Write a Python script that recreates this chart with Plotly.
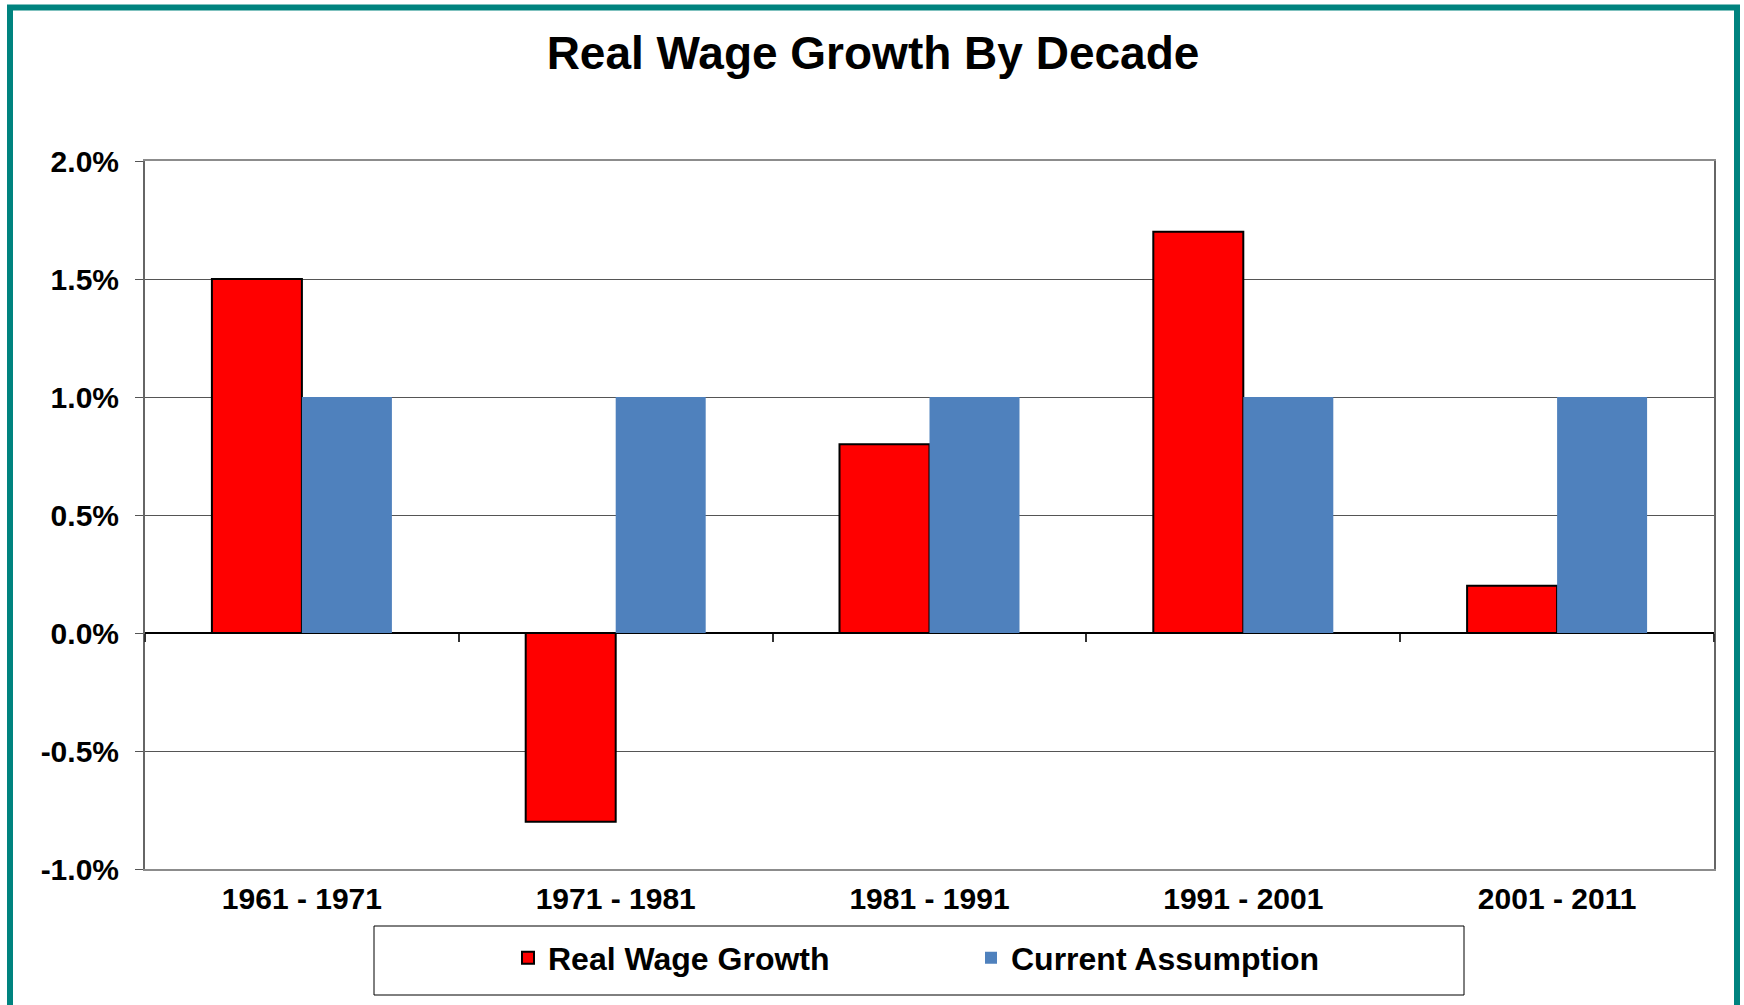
import plotly.graph_objects as go

# data
decades = ["1961 - 1971", "1971 - 1981", "1981 - 1991", "1991 - 2001", "2001 - 2011"]
real_wage_growth = [0.015, -0.008, 0.008, 0.017, 0.002]
current_assumption = [0.010, 0.010, 0.010, 0.010, 0.010]
y_ticks = [-0.01, -0.005, 0.0, 0.005, 0.01, 0.015, 0.02]
y_tick_labels = ["-1.0%", "-0.5%", "0.0%", "0.5%", "1.0%", "1.5%", "2.0%"]

# page / plot area in pixels
W, H = 1744, 1005
L, R, T, B = 145, 1714, 161, 869
FONT = "Liberation Sans"
BAR_W = 90 / ((R - L) / len(decades))  # bar width in category units


def px_x(x):
    return (x - L) / (R - L)


def px_y(y):
    return (B - y) / (B - T)


fig = go.Figure()
fig.add_trace(go.Bar(
    x=decades, y=real_wage_growth, name="Real Wage Growth",
    width=BAR_W, offset=-BAR_W,
    marker=dict(color="#FF0000", line=dict(color="black", width=2)),
))
# second series sits on an overlaid axis drawn along the zero line
fig.add_trace(go.Bar(
    x=decades, y=current_assumption, name="Current Assumption",
    width=BAR_W, offset=0, xaxis="x2",
    marker=dict(color="#4F81BD", line=dict(width=0)),
))

y_range = [y_ticks[0], y_ticks[-1]]
zero_pos = (0 - y_range[0]) / (y_range[1] - y_range[0])

fig.update_layout(
    width=W, height=H,
    margin=dict(l=L, r=W - R, t=T, b=H - B),
    paper_bgcolor="white", plot_bgcolor="white",
    font=dict(family=FONT, color="black"),
    barmode="overlay",
    title=dict(
        text="Real Wage Growth By Decade",
        font=dict(family=FONT, size=46, weight="bold", color="black"),
        x=px_x(873), xref="paper", xanchor="center",
        y=1 - 53 / H, yref="container", yanchor="middle",
    ),
    xaxis=dict(
        type="category", categoryarray=decades,
        showline=True, linecolor="#8c8c8c", linewidth=2, mirror=True,
        ticks="", showgrid=False,
        tickfont=dict(family=FONT, size=30, weight="bold"),
        ticklabelstandoff=2,
    ),
    xaxis2=dict(
        type="category", categoryarray=decades,
        overlaying="x", matches="x", anchor="free", position=zero_pos, side="bottom",
        showgrid=False, zeroline=False, showline=False,
        tickson="boundaries", ticks="outside", ticklen=8, tickwidth=1.5,
        tickcolor="#333", showticklabels=False,
    ),
    yaxis=dict(
        range=y_range, tickmode="array", tickvals=y_ticks, ticktext=y_tick_labels,
        showgrid=True, gridcolor="#555", gridwidth=1,
        zeroline=True, zerolinecolor="black", zerolinewidth=1.5,
        showline=True, linecolor="#666", linewidth=2, mirror=True,
        ticks="outside", ticklen=8, tickcolor="#555",
        tickfont=dict(family=FONT, size=30, weight="bold"),
        ticklabelstandoff=10,
    ),
    legend=dict(
        orientation="h", x=px_x(971), xanchor="center",
        y=px_y(958), yanchor="middle",
        font=dict(family=FONT, size=32, weight="bold"),
        entrywidth=418, entrywidthmode="pixels",
        bgcolor="rgba(0,0,0,0)", borderwidth=0,
    ),
    shapes=[
        # legend frame
        dict(type="rect", xref="paper", yref="paper",
             x0=px_x(374), x1=px_x(1464), y0=px_y(926), y1=px_y(995),
             line=dict(color="black", width=1), fillcolor="rgba(0,0,0,0)"),
        # teal page frame
        dict(type="rect", xref="paper", yref="paper",
             x0=px_x(10), x1=px_x(1737), y0=px_y(7.5), y1=px_y(1030),
             line=dict(color="#00837F", width=6), fillcolor="rgba(0,0,0,0)"),
    ],
)

fig.write_html(
    "out.html",
    config={"displayModeBar": False},
    post_script="document.body.style.margin='0';",
)
